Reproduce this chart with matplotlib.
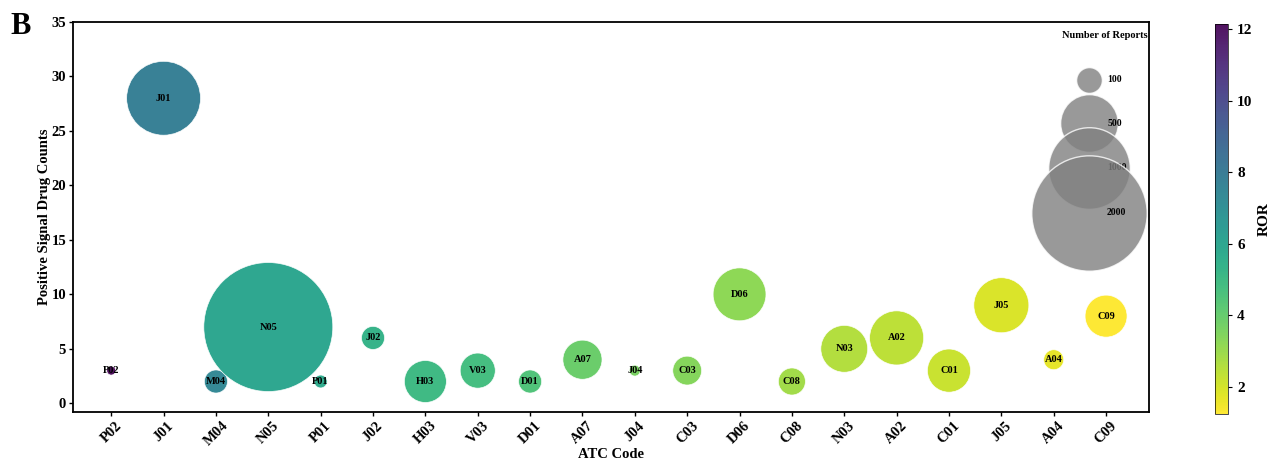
import matplotlib
matplotlib.use("Agg")
from matplotlib import pyplot as plt
import numpy as np

plt.rcParams['font.family'] = ['Liberation Serif', 'DejaVu Serif']
plt.rcParams['font.weight'] = 'bold'

# ATC codes ordered by ROR (descending)
atc_codes = ['P02', 'J01', 'M04', 'N05', 'P01', 'J02', 'H03', 'V03', 'D01', 'A07',
             'J04', 'C03', 'D06', 'C08', 'N03', 'A02', 'C01', 'J05', 'A04', 'C09']
signal_counts = [3, 28, 2, 7, 2, 6, 2, 3, 2, 4, 3, 3, 10, 2, 5, 6, 3, 9, 4, 8]
report_counts = [12, 820, 80, 2500, 25, 80, 265, 185, 80, 230,
                 18, 125, 420, 110, 330, 440, 280, 455, 60, 265]
ror_values = [12.14, 7.8, 7.4, 6.0, 5.7, 5.3, 5.0, 4.8, 4.5, 3.9,
              3.6, 3.4, 3.2, 2.9, 2.6, 2.4, 2.2, 1.9, 1.7, 1.24]

legend_reports = [100, 500, 1000, 2000]
size_scale = 3.45

fig = plt.figure(figsize=(12.75, 4.63), dpi=100)
ax = fig.add_axes([73/1275, (463-412)/463, (1149-73)/1275, (412-22)/463])

x = np.arange(len(atc_codes))
sc = ax.scatter(x, signal_counts, s=np.array(report_counts) * size_scale,
                c=ror_values, cmap='viridis_r', alpha=0.93,
                edgecolors='white', linewidths=0.5, zorder=2)

for xi, yi, lab in zip(x, signal_counts, atc_codes):
    ax.text(xi, yi, lab, ha='center', va='center', fontsize=7.5,
            fontweight='bold', color='black', zorder=3)

# size legend
leg_x = 18.68
leg_y = [29.7, 25.7, 21.6, 17.5]
for i, (n, ly) in enumerate(zip(legend_reports, leg_y)):
    ax.scatter(leg_x, ly, s=n * size_scale, color='gray', alpha=0.8,
               edgecolors='white', linewidths=1, zorder=4 + 2 * i)
    ax.text(leg_x + 0.34, ly, str(n), ha='left', va='center', fontsize=7,
            fontweight='bold', zorder=5 + 2 * i)
ax.text(18.98, 33.8, 'Number of Reports', ha='center', va='center',
        fontsize=7.5, fontweight='bold', zorder=20)

ax.set_xlim(-0.73, 19.82)
ax.set_ylim(-0.8, 35)
ax.set_xticks(x)
ax.set_xticklabels(atc_codes, rotation=45, ha='center', fontsize=10.5, fontweight='bold')
ax.set_yticks(range(0, 36, 5))
ax.tick_params(axis='both', length=3, width=1, pad=2)
ax.tick_params(axis='y', labelsize=10.5)
ax.set_xlabel('ATC Code', fontsize=10.5, fontweight='bold', labelpad=0)
ax.set_ylabel('Positive Signal Drug Counts', fontsize=10.5, fontweight='bold', labelpad=0)
for sp in ax.spines.values():
    sp.set_linewidth(1.3)

cax = fig.add_axes([1215/1275, (463-414)/463, 13/1275, (414-24)/463])
cb = fig.colorbar(sc, cax=cax)
cb.set_ticks([2, 4, 6, 8, 10, 12])
cb.ax.tick_params(labelsize=11, length=3)
cb.set_label('ROR', fontsize=11, fontweight='bold')
cb.outline.set_linewidth(0.5)

fig.text(10/1275, 1 - 27/463, 'B', fontsize=22, fontweight='bold', va='center')

fig.savefig('out.png', dpi=100)
